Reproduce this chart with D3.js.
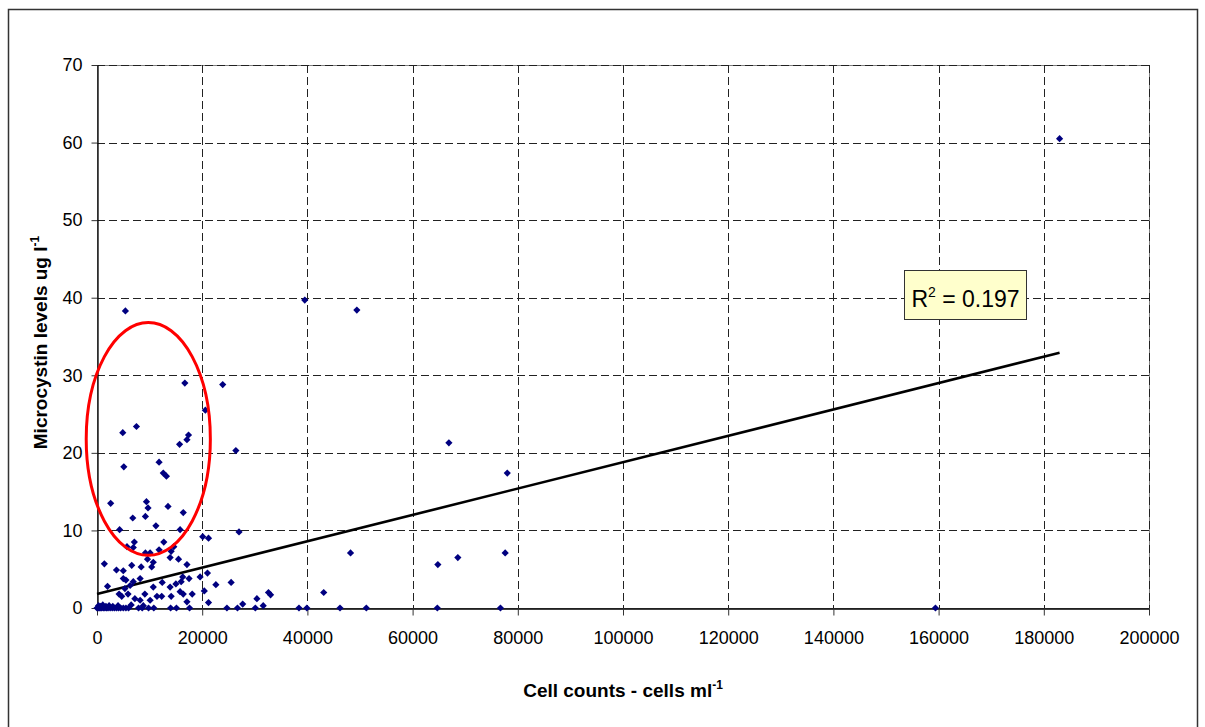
<!DOCTYPE html>
<html>
<head>
<meta charset="utf-8">
<script src="https://cdn.jsdelivr.net/npm/d3@7"></script>
<style>
  html, body { margin: 0; padding: 0; background: #fff; }
  svg { display: block; }
  text { font-family: "Liberation Sans", Arial, sans-serif; fill: #000; }
</style>
</head>
<body>
<svg id="chart" width="1205" height="727"></svg>
<script>
// ---- data ----
const cellCounts = [
  183000, 39500, 49400, 5400, 66900, 78000, 64800, 68600, 77600, 48200,
  43100, 30100, 38400, 39900, 46200, 51200, 64700, 76700, 159400, 30400,
  31600, 32600, 33000,
  16700, 23900, 20600, 4900, 7500, 17400, 17100, 15700, 26400, 5100,
  11800, 12600, 13200, 2600, 9400, 9700, 13500, 16400, 6800, 9200,
  11200, 4300, 15800, 27000, 20100, 21200, 5700, 7100, 6900, 12700,
  11800, 9200, 10100, 9600, 14100, 14600, 13900, 15500, 17100, 1400,
  6600, 8400, 10400, 10700, 3700, 5000, 5000, 5500, 6900, 8200,
  2000, 5300, 6300, 10700, 12400, 13900, 15000, 16000, 16300, 17500,
  19600, 21000, 22600, 25500, 4200, 4700, 5900, 7200, 8200, 9100,
  10100, 11400, 12300, 14100, 15800, 16400, 18100, 20400, 17100, 21200,
  27700,
  0, 200, 400, 600, 900, 1200, 1500, 1800, 2100, 2500,
  2900, 3300, 3700, 4100, 4500, 5000, 5500, 6000, 7900, 8600,
  9800, 10800, 14000, 15100, 17600, 24700, 26700,
  300, 700, 1100, 1700, 2300, 3000, 4000, 6500, 8800
];
const microcystin = [
  60.5, 39.7, 38.4, 38.3, 21.3, 17.4, 5.6, 6.5, 7.1, 7.1,
  2.0, 0, 0, 0, 0, 0, 0, 0, 0, 1.2,
  0.3, 2.0, 1.7,
  29.0, 28.8, 25.5, 22.6, 23.4, 22.3, 21.7, 21.1, 20.3, 18.2,
  18.8, 17.4, 17.0, 13.5, 13.7, 12.9, 13.1, 12.3, 11.6, 11.8,
  10.6, 10.1, 10.1, 9.8, 9.2, 9.0, 7.9, 8.5, 7.8, 8.5,
  7.5, 7.1, 7.1, 6.3, 7.3, 7.9, 6.5, 6.3, 5.6, 5.7,
  5.5, 5.3, 5.3, 5.9, 4.9, 4.8, 3.8, 3.6, 3.4, 3.8,
  2.8, 2.5, 2.9, 2.7, 3.3, 2.7, 3.1, 3.4, 4.0, 3.8,
  4.0, 4.5, 3.0, 3.3, 1.8, 1.5, 1.8, 1.2, 1.0, 1.8,
  1.0, 1.5, 1.5, 1.5, 2.1, 1.8, 1.8, 2.2, 0.8, 0.7,
  0.5,
  0, 0, 0, 0, 0, 0, 0, 0, 0, 0,
  0, 0, 0, 0, 0, 0, 0, 0, 0, 0,
  0, 0, 0, 0, 0, 0, 0,
  0.3, 0.2, 0.4, 0.2, 0.3, 0.2, 0.3, 0.4, 0.3
];
const xTicks = [0, 20000, 40000, 60000, 80000, 100000, 120000, 140000, 160000, 180000, 200000];
const yTicks = [0, 10, 20, 30, 40, 50, 60, 70];
// linear trend line (as drawn in the reference)
const trendIntercept = 1.8;
const trendSlope = 0.00017;
const trendRange = [0, 183000];
const rSquaredLabel = "0.197";
// highlighted ellipse (data units): centre x, centre y, radius x, radius y
const ellipseCenter = [9750, 21.8];
const ellipseRadius = [11800, 15.0];

(function () {
// ---- layout ----
const svg = d3.select("#chart");
const pL = 97, pR = 1149, pT = 65, pB = 608;
const x = d3.scaleLinear().domain([0, 200000]).range([pL, pR]);
const y = d3.scaleLinear().domain([0, 70]).range([pB, pT]);

// outer frame
svg.append("rect")
  .attr("x", 8.5).attr("y", 9.5)
  .attr("width", 1189).attr("height", 760)
  .attr("fill", "none").attr("stroke", "#333").attr("stroke-width", 1.5);

// plot area border
svg.append("rect")
  .attr("x", pL + 0.5).attr("y", pT + 0.5)
  .attr("width", pR - pL).attr("height", pB - pT)
  .attr("fill", "none").attr("stroke", "#808080").attr("stroke-width", 1);

// gridlines
const grid = svg.append("g").attr("stroke", "#222").attr("stroke-width", 1)
  .attr("stroke-dasharray", "8,4").attr("shape-rendering", "crispEdges");
grid.selectAll("line.h").data(yTicks.filter(d => d > 0)).join("line")
  .attr("x1", pL).attr("x2", pR)
  .attr("y1", d => Math.round(y(d)) + 0.5).attr("y2", d => Math.round(y(d)) + 0.5);
grid.selectAll("line.v").data(xTicks.filter(d => d > 0)).join("line")
  .attr("y1", pT).attr("y2", pB)
  .attr("x1", d => Math.round(x(d)) + 0.5).attr("x2", d => Math.round(x(d)) + 0.5);

// axes
const xAxis = svg.append("g").attr("transform", `translate(0,${pB + 0.5})`)
  .call(d3.axisBottom(x).tickValues(xTicks).tickSize(7).tickSizeOuter(0)
    .tickPadding(16).tickFormat(d3.format("d")));
const yAxis = svg.append("g").attr("transform", `translate(${pL + 0.5},0)`)
  .call(d3.axisLeft(y).tickValues(yTicks).tickSize(6).tickSizeOuter(0)
    .tickPadding(9).tickFormat(d3.format("d")));
[xAxis, yAxis].forEach(g => {
  g.selectAll("text").style("font-size", "18px").style("font-family", "'Liberation Sans', Arial, sans-serif");
  g.select(".domain").attr("stroke", "#000").attr("stroke-width", 1.3);
  g.selectAll(".tick line").attr("stroke", "#333");
});

// trend line
svg.append("line")
  .attr("x1", x(trendRange[0])).attr("y1", y(trendIntercept + trendSlope * trendRange[0]))
  .attr("x2", x(trendRange[1])).attr("y2", y(trendIntercept + trendSlope * trendRange[1]))
  .attr("stroke", "#000").attr("stroke-width", 2.6);

// points
const pts = cellCounts.map((c, i) => [c, microcystin[i]]);
const diamond = d3.symbol(d3.symbolSquare, 26);
svg.append("g").selectAll("path").data(pts).join("path")
  .attr("d", diamond)
  .attr("transform", d => `translate(${x(d[0])},${y(d[1])}) rotate(45)`)
  .attr("fill", "#000080");

// ellipse annotation
svg.append("ellipse")
  .attr("cx", x(ellipseCenter[0])).attr("cy", y(ellipseCenter[1]))
  .attr("rx", x(ellipseRadius[0]) - x(0)).attr("ry", y(0) - y(ellipseRadius[1]))
  .attr("fill", "none").attr("stroke", "#ff0000").attr("stroke-width", 3);

// R² label box
const boxX = 904.5, boxY = 270.5;
svg.append("rect")
  .attr("x", boxX).attr("y", boxY).attr("width", 122).attr("height", 49)
  .attr("fill", "#ffffcc").attr("stroke", "#333").attr("stroke-width", 1);
const rt = svg.append("text").attr("x", boxX + 61).attr("y", boxY + 36)
  .attr("text-anchor", "middle").style("font-size", "23px");
rt.append("tspan").text("R");
rt.append("tspan").attr("dy", -10).style("font-size", "14px").text("2");
rt.append("tspan").attr("dy", 10).text(" = " + rSquaredLabel);

// axis titles
const xt = svg.append("text").attr("x", (pL + pR) / 2).attr("y", 697)
  .attr("text-anchor", "middle").style("font-size", "19px").style("font-weight", "bold");
xt.append("tspan").text("Cell counts - cells ml");
xt.append("tspan").attr("dy", -8).style("font-size", "12px").text("-1");

const yt = svg.append("text")
  .attr("transform", `translate(47,${(pT + pB) / 2 + 6}) rotate(-90)`)
  .attr("text-anchor", "middle").style("font-size", "19px").style("font-weight", "bold");
yt.append("tspan").text("Microcystin levels ug l");
yt.append("tspan").attr("dy", -8).style("font-size", "12px").text("-1");
})();
</script>
</body>
</html>
